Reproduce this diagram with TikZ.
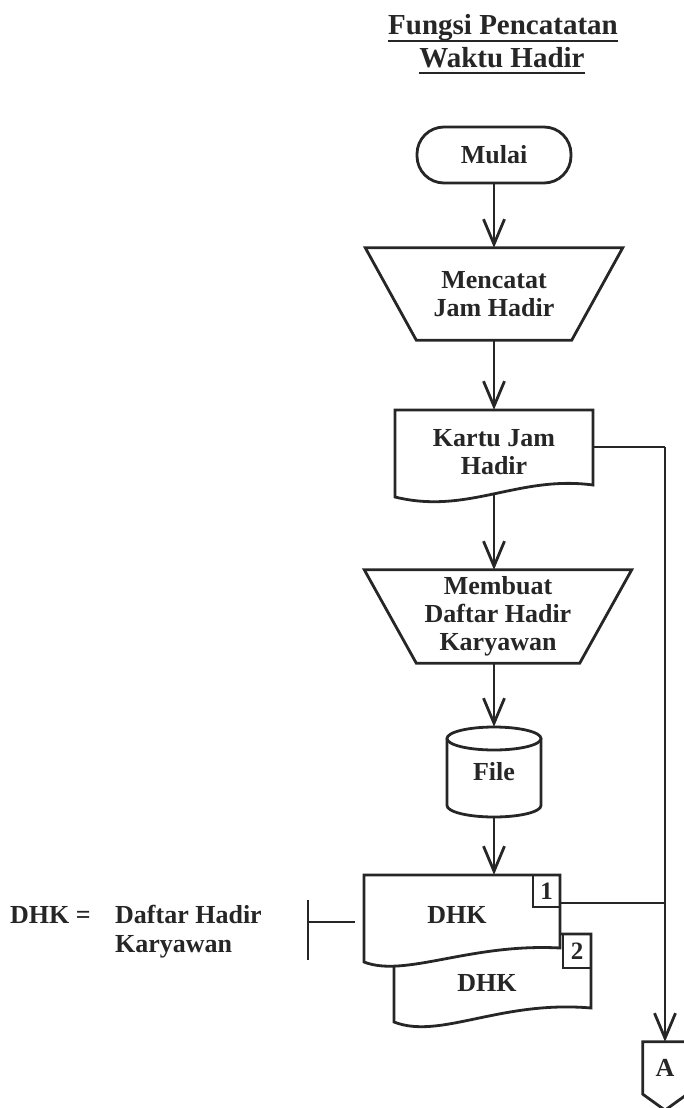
\documentclass[tikz,border=0pt]{standalone}
\usepackage{fontspec}
\setmainfont{Liberation Serif}
\usetikzlibrary{arrows.meta,calc}
\definecolor{ink}{HTML}{262626}
\begin{document}
\begin{tikzpicture}[x=1pt,y=-1pt,
  outline/.style={draw=ink, line width=2.8pt, line join=miter},
  thinline/.style={draw=ink, line width=1.5pt},
  lbl/.style={font=\fontsize{26}{28}\selectfont\bfseries, text=ink, align=center, inner sep=0pt},
  ttl/.style={font=\fontsize{29}{31}\selectfont\bfseries, text=ink, inner sep=0pt},
  numbox/.style={draw=ink, line width=2.4pt, font=\fontsize{25}{25}\selectfont\bfseries, text=ink, inner sep=0pt},
  arr/.style={draw=ink, line width=2.8pt, -{Straight Barb[length=25pt,width=21pt]}},
  ]
\useasboundingbox (0,0) rectangle (684,1108);

% title
\node[ttl, anchor=base] (t1) at (503,35) {Fungsi Pencatatan};
\node[ttl, anchor=base] (t2) at (502,67) {Waktu Hadir};
\draw[draw=ink, line width=2.6pt] ([yshift=-6pt]t1.base west) -- ([yshift=-6pt]t1.base east);
\draw[draw=ink, line width=2.6pt] ([yshift=-6pt]t2.base west) -- ([yshift=-6pt]t2.base east);

% Mulai
\node[lbl, outline, rounded corners=27pt, minimum width=154pt, minimum height=56pt] (mulai) at (494,155) {Mulai};

% Mencatat Jam Hadir
\node[lbl, minimum width=257pt, minimum height=92pt] (mencatat) at (494,294) {Mencatat\\Jam Hadir};
\draw[outline] (mencatat.north west) -- (mencatat.north east) -- ([xshift=-51pt]mencatat.south east) -- ([xshift=51pt]mencatat.south west) -- cycle;

% Kartu Jam Hadir (document)
\node[lbl, minimum width=198pt, minimum height=84pt] (kartu) at (494,452) {Kartu Jam\\Hadir};
\draw[outline] (395,497) -- (395,410) -- (593,410) -- (593,485) .. controls (518,475) and (468,515) .. (395,497) -- cycle;

% Membuat Daftar Hadir Karyawan
\node[lbl, minimum width=267pt, minimum height=93pt] (membuat) at (498,616.5) {Membuat\\Daftar Hadir\\Karyawan};
\draw[outline] (membuat.north west) -- (membuat.north east) -- ([xshift=-52pt]membuat.south east) -- ([xshift=52pt]membuat.south west) -- cycle;

% File (disk)
\node[lbl, minimum width=94pt, minimum height=90pt] (file) at (494,772) {\raisebox{-7pt}{File}};
\draw[outline] (494,738.5) ellipse [x radius=47pt, y radius=11.5pt];
\draw[outline] (447,738.5) -- (447,805.5) arc[start angle=180, end angle=360, x radius=47pt, y radius=11.5pt] -- (541,738.5);

% DHK documents
\draw[outline, fill=white] (394,1022) -- (394,934) -- (591,934) -- (591,1008) .. controls (500,1000) and (440,1040) .. (394,1022) -- cycle;
\node[lbl] (dhk2) at (487,983) {DHK};
\node[numbox, minimum width=28pt, minimum height=34pt] (b2) at (577,951) {2};
\draw[outline, fill=white] (364,962) -- (364,875) -- (560,875) -- (560,948) .. controls (470,943) and (405,978) .. (364,962) -- cycle;
\node[lbl, minimum width=196pt, minimum height=80pt] (dhk1) at (457,915) {DHK};
\node[numbox, minimum width=27pt, minimum height=32pt] (b1) at (546.5,891) {1};

% off-page connector
\node[lbl, minimum width=44pt, minimum height=52pt] (offA) at (665,1068) {A};
\draw[outline] (offA.south west) -- (offA.north west) -- (offA.north east) -- (offA.south east) -- ([yshift=-16pt]offA.south) -- cycle;

% connectors
\draw[arr] (mulai.south) -- (mulai.south |- mencatat.north);
\draw[arr] (mencatat.south) -- (mencatat.south |- kartu.north);
\draw[arr] (kartu.south) -- (kartu.south |- membuat.north);
\draw[arr] (file.north |- membuat.south) -- (file.north);
\draw[arr] (file.south) -- (file.south |- dhk1.north);

\coordinate (j1) at (665,447);
\coordinate (j2) at (665,903);
\draw[outline] (kartu.east |- j1) -- (j1);
\draw[arr] (j1) -- (offA.north);
\draw[outline] (b1.east |- j2) -- (j2);

% annotation
\node[lbl, anchor=base west] (abbr) at (10,923) {DHK =};
\node[lbl, anchor=base west] (def1) at (115,923) {Daftar Hadir};
\node[lbl, anchor=base west] (def2) at (115,952) {Karyawan};
\coordinate (ann) at (308,922);
\coordinate (annend) at (355,922);
\draw[thinline] (308,900) -- (308,960);
\draw[thinline] (ann) -- (annend);
\end{tikzpicture}
\end{document}
